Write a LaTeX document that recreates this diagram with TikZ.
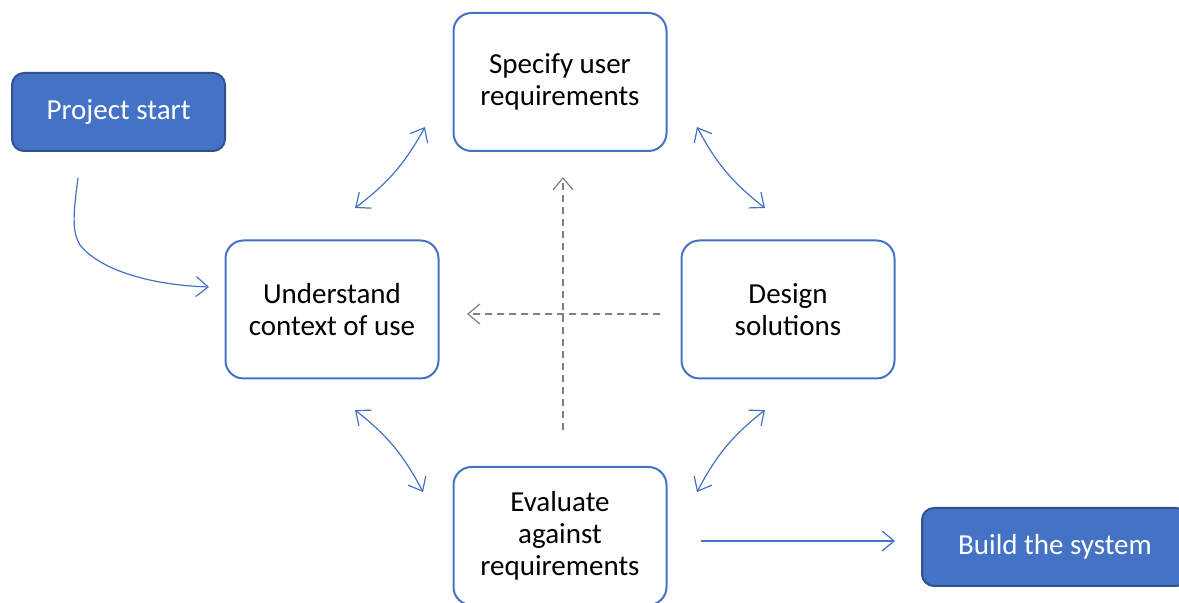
\documentclass[tikz,border=0pt]{standalone}
\usepackage{fontspec}
\setmainfont{Carlito}
\usetikzlibrary{
    arrows.meta,
    positioning,
    calc
}

\definecolor{boxBlue}{RGB}{68,114,196}
\definecolor{edgeBlue}{RGB}{47,82,143}
\definecolor{dashGray}{RGB}{127,127,127}

\begin{document}
\begin{tikzpicture}[x=0.5pt, y=-0.5pt,
    stage/.style={draw=boxBlue, line width=1pt, fill=white, rounded corners=9pt,
        minimum width=106.5pt, minimum height=69pt, inner sep=0pt, align=center,
        font=\fontsize{14.5}{16}\selectfont},
    milestone/.style={draw=edgeBlue, line width=1pt, fill=boxBlue, text=white,
        rounded corners=6pt, minimum width=106.5pt, minimum height=39pt, inner sep=0pt,
        font=\fontsize{14.5}{16}\selectfont},
    flow/.style={boxBlue, line width=0.6pt, -{Straight Barb[length=6pt,width=10pt]}},
    loop/.style={boxBlue, line width=0.6pt,
        {Straight Barb[length=6pt,width=10pt]}-{Straight Barb[length=6pt,width=10pt]}},
    guide/.style={dashGray, line width=0.6pt, dash pattern=on 3.5pt off 2.5pt,
        -{Straight Barb[length=6pt,width=10pt]}}
]

\useasboundingbox (0,0) rectangle (1179,603);

% Stages of the cycle
\node[stage] (spec) at (560,82) {Specify user\\requirements};
\node[stage] (ctx) at (332,309.5) {Understand\\context of use};
\node[stage] (design) at (788,309.5) {Design\\solutions};
\node[stage] (eval) at (560,536) {Evaluate\\against\\requirements};

% Start and end
\node[milestone] (start) at (118.5,112) {Project start};
\node[milestone, minimum width=133pt] (build) at (1055,547) {Build the system};

% Free ends of the connectors
\coordinate (kick) at (78,178);
\coordinate (ctxIn) at (209,287);
\foreach \n/\x/\y in {tlA/355/208, tlB/425/127, trA/697/127, trB/765/208,
                      blA/355/410, blB/423/492, brA/765/410, brB/697/492,
                      vA/563/430, vB/563/177, hA/660/314, hB/467/314,
                      outA/701/541, outB/895/541} {
    \coordinate (\n) at (\x,\y);
}

% Entry into the cycle
\draw[flow] (kick) .. controls (73,215) and (72,232) .. (80,245)
    .. controls (100,270) and (150,285) .. (ctxIn);

% Iteration arrows
\draw[loop] (tlA) to[bend right=12] (tlB);
\draw[loop] (trA) to[bend right=12] (trB);
\draw[loop] (brA) to[bend right=12] (brB);
\draw[loop] (blB) to[bend right=12] (blA);

% Dashed guides
\draw[guide] (vA) -- (vB);
\draw[guide] (hA) -- (hB);

% Exit
\draw[flow] (outA) -- (outB);

\end{tikzpicture}
\end{document}
